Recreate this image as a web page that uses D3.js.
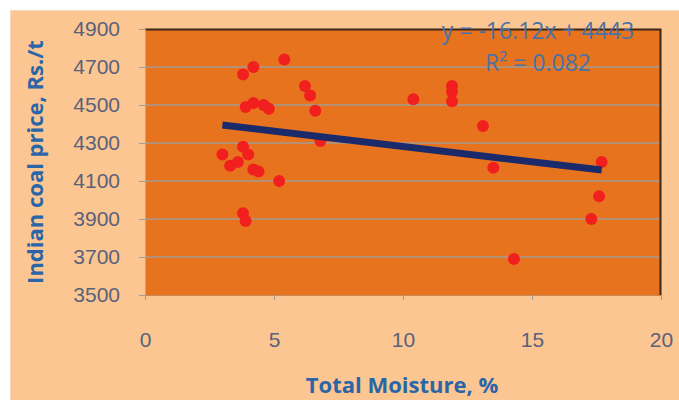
<!DOCTYPE html>
<html>
<head>
<meta charset="utf-8">
<script src="https://cdn.jsdelivr.net/npm/d3@7/dist/d3.min.js"></script>
<style>
  html, body { margin: 0; padding: 0; background: #ffffff; }
  svg { display: block; font-family: "Open Sans", "Liberation Sans", sans-serif; }
</style>
</head>
<body>
<svg id="chart" width="679" height="400"></svg>
<script>
// Total moisture (%) of each coal sample and its Indian coal price (Rs./t)
const moisture = [
  3.8, 4.2, 5.4,
  3.9, 4.2, 4.6, 4.8,
  6.2, 6.4, 6.6, 6.8,
  3.0, 3.3, 3.6, 3.8, 4.0, 4.2, 4.4, 5.2,
  3.8, 3.9,
  10.4, 11.9, 11.9, 11.9, 13.1, 13.5,
  17.7, 17.6, 17.3, 14.3
];
const price = [
  4660, 4700, 4740,
  4490, 4510, 4500, 4480,
  4600, 4550, 4470, 4310,
  4240, 4180, 4200, 4280, 4240, 4160, 4150, 4100,
  3930, 3890,
  4530, 4600, 4570, 4520, 4390, 4170,
  4200, 4020, 3900, 3690
];

// Linear trend fitted to the samples
const slope = -16.12;
const intercept = 4443;
const rSquared = 0.082;

const xTicks = [0, 5, 10, 15, 20];
const yTicks = [3500, 3700, 3900, 4100, 4300, 4500, 4700, 4900];

const svg = d3.select("#chart");
const W = 679, H = 400;
const plot = { left: 145, right: 661, top: 29, bottom: 295 };

// Chart area background
svg.append("rect")
  .attr("x", 10.5).attr("y", 10.5)
  .attr("width", W - 10).attr("height", H - 10)
  .attr("fill", "#fcc692")
  .attr("stroke", "#f2d9bf").attr("stroke-width", 1);

const x = d3.scaleLinear().domain([0, 20]).range([plot.left, plot.right]);
const y = d3.scaleLinear().domain([3500, 4900]).range([plot.bottom, plot.top]);

// Plot area
svg.append("rect")
  .attr("x", plot.left).attr("y", plot.top)
  .attr("width", plot.right - plot.left).attr("height", plot.bottom - plot.top)
  .attr("fill", "#e8731f");

// Horizontal gridlines
svg.append("g")
  .selectAll("line")
  .data(yTicks.filter(t => t > 3500 && t < 4900))
  .join("line")
  .attr("x1", plot.left).attr("x2", plot.right)
  .attr("y1", d => y(d)).attr("y2", d => y(d))
  .attr("stroke", "#a39a93").attr("stroke-width", 1.3);

// Plot frame: dark top and right edges
svg.append("path")
  .attr("d", `M${plot.left},${plot.top + 0.5}H${plot.right - 0.5}V${plot.bottom}`)
  .attr("fill", "none").attr("stroke", "#3b2618").attr("stroke-width", 2);

// Y axis
const yAxis = d3.axisLeft(y).tickValues(yTicks).tickSize(6).tickPadding(10).tickFormat(d3.format("d"));
const gy = svg.append("g").attr("transform", `translate(${plot.left},0)`).call(yAxis);
gy.select(".domain").attr("stroke", "#b8a48f");
gy.selectAll(".tick line").attr("stroke", "#a39a93");
gy.selectAll(".tick text")
  .attr("fill", "#59627a").attr("font-size", 21).attr("x", -25);

// X axis
const xAxis = d3.axisBottom(x).tickValues(xTicks).tickSize(5).tickPadding(32);
const gx = svg.append("g").attr("transform", `translate(0,${plot.bottom})`).call(xAxis);
gx.select(".domain").attr("stroke", "#c98a55");
gx.selectAll(".tick line").attr("stroke", "#a39a93");
gx.selectAll(".tick text").attr("fill", "#59627a").attr("font-size", 21);

// Data points
svg.append("g")
  .selectAll("circle")
  .data(moisture.map((m, i) => [m, price[i]]))
  .join("circle")
  .attr("cx", d => x(d[0]))
  .attr("cy", d => y(d[1]))
  .attr("r", 6)
  .attr("fill", "#f21f1f");

// Trend line across the sampled moisture range
const xMin = d3.min(moisture), xMax = d3.max(moisture);
svg.append("line")
  .attr("x1", x(xMin)).attr("y1", y(slope * xMin + intercept))
  .attr("x2", x(xMax)).attr("y2", y(slope * xMax + intercept))
  .attr("stroke", "#1b2a6b").attr("stroke-width", 7);

// Trend equation
svg.append("text")
  .attr("x", 538).attr("y", 39)
  .attr("text-anchor", "middle")
  .attr("fill", "#4a72a3").attr("font-size", 23)
  .text(`y = ${slope}x + ${intercept}`);
svg.append("text")
  .attr("x", 538).attr("y", 71)
  .attr("text-anchor", "middle")
  .attr("fill", "#4a72a3").attr("font-size", 23)
  .text(`R² = ${rSquared}`);

// Axis titles
svg.append("text")
  .attr("transform", "translate(43,162) rotate(-90)")
  .attr("text-anchor", "middle")
  .attr("fill", "#2a65a8").attr("font-size", 22).attr("font-weight", "bold")
  .text("Indian coal price, Rs./t");
svg.append("text")
  .attr("x", 402).attr("y", 393)
  .attr("text-anchor", "middle")
  .attr("fill", "#2a65a8").attr("font-size", 22).attr("font-weight", "bold")
  .text("Total Moisture, %");
</script>
</body>
</html>
